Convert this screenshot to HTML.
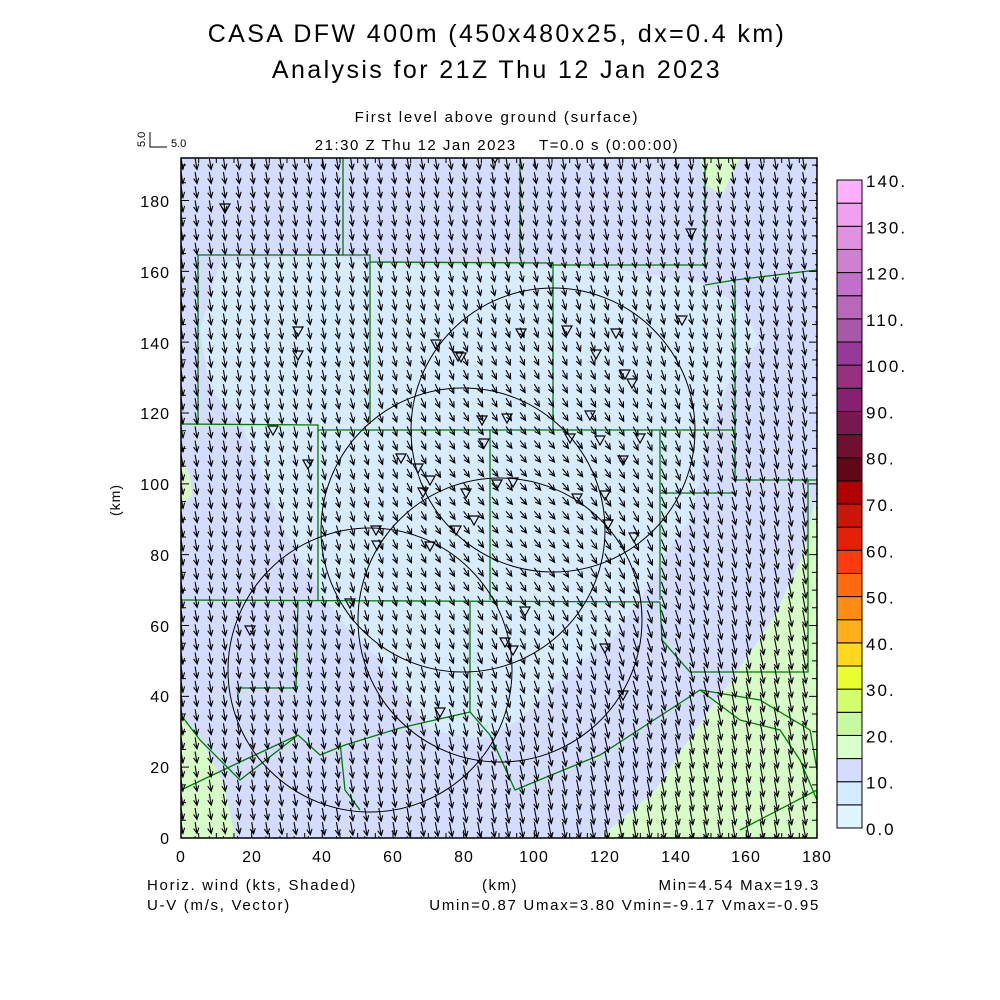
<!DOCTYPE html>
<html><head><meta charset="utf-8"><style>
body{margin:0;background:#fff;width:1000px;height:1000px;overflow:hidden;font-family:"Liberation Sans",sans-serif}
svg{position:absolute;left:0;top:0}
text{font-family:"Liberation Sans",sans-serif;fill:#000;white-space:pre}
</style></head><body>
<svg id="s" width="1000" height="1000" viewBox="0 0 1000 1000">
<defs><clipPath id="cp"><rect x="181" y="158" width="636" height="680"/></clipPath></defs>
<rect x="181" y="158" width="636" height="680" fill="#d4dcff"/>
<g clip-path="url(#cp)">
<polygon fill="#d8ecff" points="200,330 220,262 320,255 420,265 520,265 620,270 700,282 740,305 760,340 730,380 705,440 700,480 690,520 662,560 640,600 610,640 560,680 520,720 480,740 430,730 400,690 380,660 340,620 300,560 280,520 260,470 240,420 210,390"/>
<polygon fill="#d8fcc8" points="817,490 805,550 775,615 735,675 695,730 655,790 600,838 817,838"/>
<polygon fill="#d8fcc8" points="181,715 200,738 222,780 236,838 181,838"/>
<polygon fill="#d8fcc8" points="700,158 706,185 722,195 740,158"/>
<polygon fill="#d8fcc8" points="181,462 190,475 192,495 181,505"/>
<g fill="none" stroke="#007a00" stroke-width="1.3">
<polyline points="181,424 318,425 318,430 735,430"/>
<polyline points="198,424 198,255 370,255 370,424"/>
<polyline points="370,262 553,263 553,430"/>
<polyline points="553,265 705,265 705,158"/>
<polyline points="343,158 343,255"/>
<polyline points="520,158 520,258"/>
<polyline points="705,285 735,280 817,270"/>
<polyline points="735,280 735,480 817,480"/>
<polyline points="318,430 318,600"/>
<polyline points="490,430 490,600"/>
<polyline points="660,430 660,600"/>
<polyline points="660,493 735,493"/>
<polyline points="181,600 660,602"/>
<polyline points="298,602 296,688 238,688 238,700"/>
<polyline points="470,602 470,712"/>
<polyline points="660,602 662,640 690,672 808,672 808,480"/>
<polyline points="181,790 240,762 298,735 320,755 345,745 400,728 470,712 490,735 515,790 600,755 700,690 740,720 780,730 800,760 817,800"/>
<polyline points="181,715 200,740 240,780 298,735"/>
<polyline points="340,742 345,790 360,810"/>
<polyline points="700,690 760,700 810,730 817,770"/>
<polyline points="740,830 817,790"/>
</g>
<g fill="none" stroke="#000" stroke-width="1">
<circle cx="553" cy="430" r="142"/>
<circle cx="463" cy="530" r="142"/>
<circle cx="500" cy="620" r="142"/>
<circle cx="370" cy="670" r="142"/>
</g>
<g id="arr" stroke="#000" stroke-width="1.1" fill="none"></g>
<g id="tri" stroke="#000" stroke-width="1.2" fill="none"></g>
</g>
<rect x="181" y="158" width="636" height="680" fill="none" stroke="#000" stroke-width="1.5"/>
<g id="ticks" stroke="#000" stroke-width="1"></g>
<g id="cb"></g>
<g font-size="16" text-anchor="end" letter-spacing="1">
<text x="170" y="844">0</text><text x="170" y="773">20</text><text x="170" y="702">40</text><text x="170" y="632">60</text><text x="170" y="561">80</text><text x="170" y="490">100</text><text x="170" y="419">120</text><text x="170" y="349">140</text><text x="170" y="278">160</text><text x="170" y="207">180</text>
</g>
<g font-size="16" text-anchor="middle" letter-spacing="1">
<text x="181" y="862">0</text><text x="252" y="862">20</text><text x="322" y="862">40</text><text x="393" y="862">60</text><text x="464" y="862">80</text><text x="534" y="862">100</text><text x="605" y="862">120</text><text x="676" y="862">140</text><text x="746" y="862">160</text><text x="817" y="862">180</text>
</g>
<text x="497" y="42" font-size="25" text-anchor="middle" letter-spacing="2.4">CASA DFW 400m (450x480x25, dx=0.4 km)</text>
<text x="497" y="78" font-size="25" text-anchor="middle" letter-spacing="2.4">Analysis for 21Z Thu 12 Jan 2023</text>
<text x="497" y="122" font-size="15" text-anchor="middle" letter-spacing="1.8">First level above ground (surface)</text>
<text x="497" y="150" font-size="15" text-anchor="middle" letter-spacing="1.5">21:30 Z Thu 12 Jan 2023    T=0.0 s (0:00:00)</text>
<text x="500" y="890" font-size="15" text-anchor="middle" letter-spacing="1.5">(km)</text>
<text x="120" y="500" font-size="14" text-anchor="middle" transform="rotate(-90 120 500)" letter-spacing="1">(km)</text>
<text x="147" y="890" font-size="15" letter-spacing="1.7">Horiz. wind (kts, Shaded)</text>
<text x="147" y="910" font-size="15" letter-spacing="1.7">U-V (m/s, Vector)</text>
<text x="820" y="890" font-size="15" text-anchor="end" letter-spacing="1.7">Min=4.54 Max=19.3</text>
<text x="820" y="910" font-size="15" text-anchor="end" letter-spacing="1.7">Umin=0.87 Umax=3.80 Vmin=-9.17 Vmax=-0.95</text>
<text x="145" y="147" font-size="11" transform="rotate(-90 145 147)">5.0</text>
<polyline points="150,132 150,147 167,147" fill="none" stroke="#000"/>
<text x="171" y="147" font-size="11">5.0</text>
</svg>
<script>
var NS="http://www.w3.org/2000/svg";
function el(p,t,a,txt){var e=document.createElementNS(NS,t);for(var k in a)e.setAttribute(k,a[k]);if(txt)e.textContent=txt;p.appendChild(e);return e;}
var g=document.getElementById('arr'),d="";
for(var i=0;i<=45;i++)for(var j=0;j<=48;j++){
 var x=181+i*14.13,y=158+j*14.13;var px=(x-181)/636,py=(y-158)/680;
 var c=Math.exp(-((px-0.55)*(px-0.55)+(py-0.5)*(py-0.5))/0.07);
 var br=Math.max(0,Math.min(1,(px+py-1.05)/0.6));
 var u=1.0+2.4*c+0.6*br, v=6-2.2*c+2.8*br;
 var s=1.9,dx=u*s,dy=v*s,x2=x+dx,y2=y+dy;
 var L=Math.sqrt(dx*dx+dy*dy),ux=dx/L,uy=dy/L,h=6,ca=Math.cos(0.45),sa=Math.sin(0.45);
 var ax=x2-h*(ux*ca-uy*sa),ay=y2-h*(uy*ca+ux*sa),bx=x2-h*(ux*ca+uy*sa),by=y2-h*(uy*ca-ux*sa);
 d+="M"+x.toFixed(1)+" "+y.toFixed(1)+"L"+x2.toFixed(1)+" "+y2.toFixed(1)+"M"+ax.toFixed(1)+" "+ay.toFixed(1)+"L"+x2.toFixed(1)+" "+y2.toFixed(1)+"L"+bx.toFixed(1)+" "+by.toFixed(1);
}
el(g,'path',{d:d});
var tr=[[225,208],[298,331],[298,355],[436,344],[461,357],[458,356],[521,333],[567,330],[596,354],[616,333],[625,374],[632,383],[507,418],[590,415],[482,420],[484,443],[418,468],[430,480],[423,492],[401,458],[513,482],[577,498],[605,495],[608,524],[634,537],[466,493],[456,530],[430,546],[474,520],[376,530],[377,545],[250,630],[350,603],[525,611],[505,642],[513,650],[605,648],[623,695],[440,712],[570,438],[600,440],[640,438],[623,460],[691,233],[682,320],[273,430],[308,464],[495,158],[497,484]];
var tg=document.getElementById('tri');
tr.forEach(function(p){el(tg,'polygon',{points:(p[0]-5)+","+(p[1]-4)+" "+(p[0]+5)+","+(p[1]-4)+" "+p[0]+","+(p[1]+5)});});
var tk=document.getElementById('ticks'),td="";
for(var k=0;k<=36;k++){var x=181+k*17.667,L=(k%4==0)?8:5;td+="M"+x+" 838v-"+L+"M"+x+" 158v"+L;}
for(var k=0;k<=38;k++){var y=838-k*17.708,L=(k%4==0)?8:5;td+="M181 "+y+"h"+L+"M817 "+y+"h-"+L;}
el(tk,'path',{d:td});
var cols=["#e0f6ff","#d4ecff","#d4dcff","#d8ffcc","#c8f8a0","#d4ff6c","#eaff30","#ffd820","#ffb018","#ff8c14","#ff6c10","#ff3a0c","#e42008","#c81808","#b00000","#600818","#701030","#781850","#882070","#983080","#983898","#a858a8","#b868b8","#c070c8","#d080d0","#e090e0","#f0a0ee","#ffb0ff"];
var cb=document.getElementById('cb'),bh=(828-180)/28;
for(var k=0;k<28;k++){el(cb,'rect',{x:837,y:(828-(k+1)*bh).toFixed(2),width:25,height:bh.toFixed(2),fill:cols[k],stroke:"#000","stroke-width":1});}
for(var k=0;k<=14;k++){var y=828-k*2*bh;el(cb,'text',{x:866,y:(y+7).toFixed(1),"font-size":"17","letter-spacing":"2"},k==0?"0.0":(k*10)+".");}
</script>
</body></html>
